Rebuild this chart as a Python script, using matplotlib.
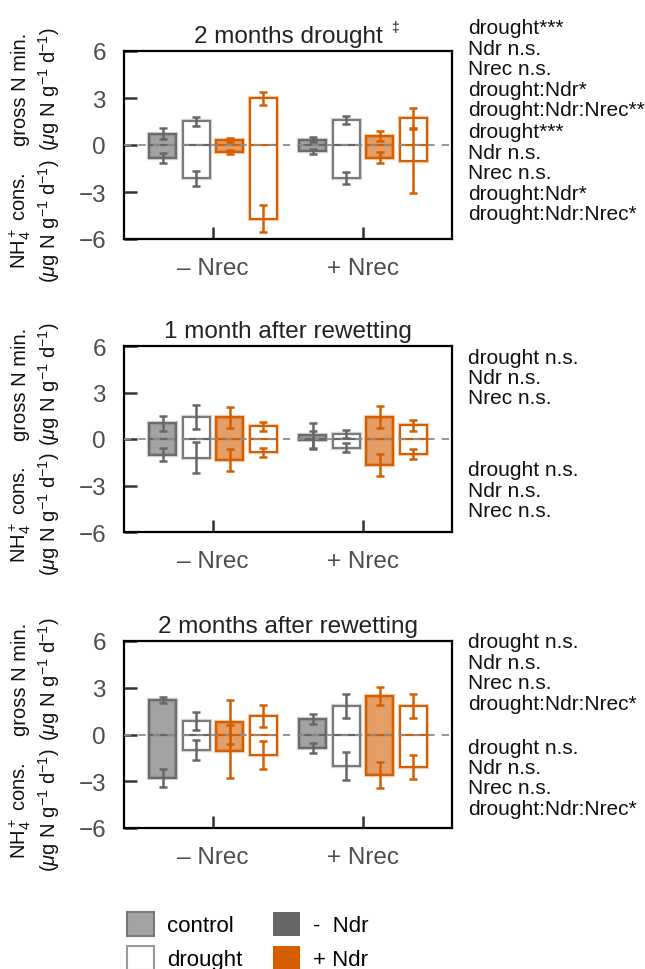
import numpy as np
import matplotlib
matplotlib.use('Agg')
import matplotlib.pyplot as plt
from matplotlib.patches import Patch

plt.rcParams['font.family'] = ['Liberation Sans', 'DejaVu Sans']
plt.rcParams['mathtext.fontset'] = 'custom'
plt.rcParams['mathtext.rm'] = 'Liberation Sans'
plt.rcParams['mathtext.it'] = 'Liberation Sans:italic'
plt.rcParams['mathtext.bf'] = 'Liberation Sans:bold'

# categories
groups = ['– Nrec', '+ Nrec']
treatments = ['control -Ndr', 'drought -Ndr', 'control +Ndr', 'drought +Ndr']
titles = ['2 months drought', '1 month after rewetting', '2 months after rewetting']

# gross N mineralisation (upper end of box) and NH4+ consumption (lower end), mean and s.e.
# order inside each Nrec group: control -Ndr, drought -Ndr, control +Ndr, drought +Ndr
min_mean_1 = [0.72, 1.52, 0.34, 2.97, 0.34, 1.61, 0.60, 1.72]
min_se_1 = [0.34, 0.29, 0.12, 0.42, 0.17, 0.27, 0.32, 0.61]
cons_mean_1 = [-0.84, -2.13, -0.47, -4.71, -0.41, -2.11, -0.82, -1.03]
cons_se_1 = [0.34, 0.47, 0.12, 0.87, 0.17, 0.37, 0.36, 2.05]

min_mean_2 = [1.01, 1.41, 1.39, 0.81, 0.24, 0.34, 1.42, 0.88]
min_se_2 = [0.49, 0.77, 0.65, 0.29, 0.80, 0.25, 0.72, 0.37]
cons_mean_2 = [-1.01, -1.20, -1.35, -0.84, -0.07, -0.56, -1.68, -0.97]
cons_se_2 = [0.44, 1.02, 0.71, 0.29, 0.60, 0.28, 0.71, 0.32]

min_mean_3 = [2.24, 0.86, 0.82, 1.18, 0.97, 1.83, 2.47, 1.85]
min_se_3 = [0.19, 0.58, 1.42, 0.71, 0.32, 0.76, 0.58, 0.76]
cons_mean_3 = [-2.77, -1.01, -1.08, -1.33, -0.86, -2.02, -2.60, -2.06]
cons_se_3 = [0.58, 0.65, 1.72, 0.90, 0.34, 0.90, 0.83, 0.77]

# statistics printed right of each panel
stats_min_1 = ['drought***', 'Ndr n.s.', 'Nrec n.s.', 'drought:Ndr*', 'drought:Ndr:Nrec**']
stats_cons_1 = ['drought***', 'Ndr n.s.', 'Nrec n.s.', 'drought:Ndr*', 'drought:Ndr:Nrec*']
stats_min_2 = ['drought n.s.', 'Ndr n.s.', 'Nrec n.s.']
stats_cons_2 = ['drought n.s.', 'Ndr n.s.', 'Nrec n.s.']
stats_min_3 = ['drought n.s.', 'Ndr n.s.', 'Nrec n.s.', 'drought:Ndr:Nrec*']
stats_cons_3 = ['drought n.s.', 'Ndr n.s.', 'Nrec n.s.', 'drought:Ndr:Nrec*']

yticks = [-6, -3, 0, 3, 6]

ORANGE = '#d55e00'
GRAY = '#666666'
face = [(0.4, 0.4, 0.4, 0.6), 'white', (213/255, 94/255, 0, 0.6), 'white']
edge = ['#6b6b6b', '#7a7a7a', ORANGE, ORANGE]
errc = [GRAY, GRAY, ORANGE, ORANGE]

W, H = 645, 970
# axes boxes in pixels (left, top, right, bottom)
panel_px = [(124, 52, 452, 240), (124, 347, 452, 533), (124, 642, 452, 829)]
# y of first stats line (upper block, lower block), pixels
stats_px = [(29, 133), (358, 471), (643, 748)]


def draw_panel(ax, title, mn, mse, cm, cse):
    offs = (np.arange(4) - 1.5) * 0.224
    width = 0.181
    for g in range(len(groups)):
        for t in range(len(treatments)):
            i = g * 4 + t
            x = g + 1 + offs[t]
            # soft halo round the box
            ax.bar(x, mn[i] - cm[i], bottom=cm[i], width=width, color='none',
                   edgecolor=edge[t], linewidth=3.2, alpha=0.25, zorder=2)
            ax.bar(x, mn[i] - cm[i], bottom=cm[i], width=width, color=face[t],
                   edgecolor=edge[t], linewidth=1.6, zorder=3)
            ax.hlines(0, x - width / 2, x + width / 2, colors=errc[t], lw=1.6, zorder=4)
            ax.errorbar([x, x], [mn[i], cm[i]], yerr=[mse[i], cse[i]], fmt='none',
                        ecolor=errc[t], elinewidth=1.8, capsize=2.7, capthick=1.8, zorder=6)
    ax.axhline(0, color='#8c8c8c', lw=1.3, ls=(0, (4, 4)), zorder=5)

    ax.set_xlim(0.407, 2.593)
    ax.set_ylim(-6, 6)
    ax.set_yticks(yticks)
    ax.set_xticks([1, 2])
    ax.set_xticklabels(groups)
    ax.tick_params(axis='both', direction='in', length=9, width=1.8, color='#333333',
                   labelcolor='#4d4d4d', labelsize=17.5)
    ax.tick_params(axis='y', pad=13)
    ax.tick_params(axis='x', pad=13)
    for s in ax.spines.values():
        s.set_linewidth(1.6)
        s.set_color('black')
    ax.set_title(title, fontsize=17.5, color='#222222', pad=6.5)

    lab = dict(rotation=90, ha='center', va='center', fontsize=14.5, color='#111111',
               transform=ax.transAxes)
    unit = r'($\mu$g N g$^{-1}$ d$^{-1}$)'
    ax.text(-0.316, 0.80, 'gross N min.', **lab)
    ax.text(-0.229, 0.80, unit, **lab)
    ax.text(-0.316, 0.10, r'NH$_4^+$ cons.', **lab)
    ax.text(-0.229, 0.10, unit, **lab)


fig = plt.figure(figsize=(W / 100, H / 100), dpi=100)

data = [(min_mean_1, min_se_1, cons_mean_1, cons_se_1),
        (min_mean_2, min_se_2, cons_mean_2, cons_se_2),
        (min_mean_3, min_se_3, cons_mean_3, cons_se_3)]
stats = [(stats_min_1, stats_cons_1), (stats_min_2, stats_cons_2), (stats_min_3, stats_cons_3)]

for p in range(3):
    l, t, r, b = panel_px[p]
    ax = fig.add_axes([l / W, 1 - b / H, (r - l) / W, (b - t) / H])
    draw_panel(ax, titles[p], *data[p])
    for block, y0 in zip(stats[p], stats_px[p]):
        for k, line in enumerate(block):
            fig.text(468 / W, 1 - (y0 + k * 20.4) / H, line, fontsize=15,
                     color='#111111', ha='left', va='center')
    if p == 0:
        ax.text(0.826, 1.128, '‡', transform=ax.transAxes, fontsize=10,
                color='#222222', ha='center', va='center')

handles = [Patch(facecolor=(0.4, 0.4, 0.4, 0.6), edgecolor='#777777', lw=1.5, label='control'),
           Patch(facecolor='white', edgecolor='#999999', lw=1.5, label='drought'),
           Patch(facecolor=GRAY, edgecolor='none', label='-  Ndr'),
           Patch(facecolor=ORANGE, edgecolor='none', label='+ Ndr')]
fig.legend(handles=handles, ncol=2, loc='upper left', bbox_to_anchor=(127 / W, 1 - 913 / H),
           frameon=False, fontsize=16, handlelength=1.2, handleheight=1.25,
           handletextpad=0.6, columnspacing=1.4, labelspacing=0.45,
           borderpad=0, borderaxespad=0)

fig.savefig('out.png', dpi=100)
